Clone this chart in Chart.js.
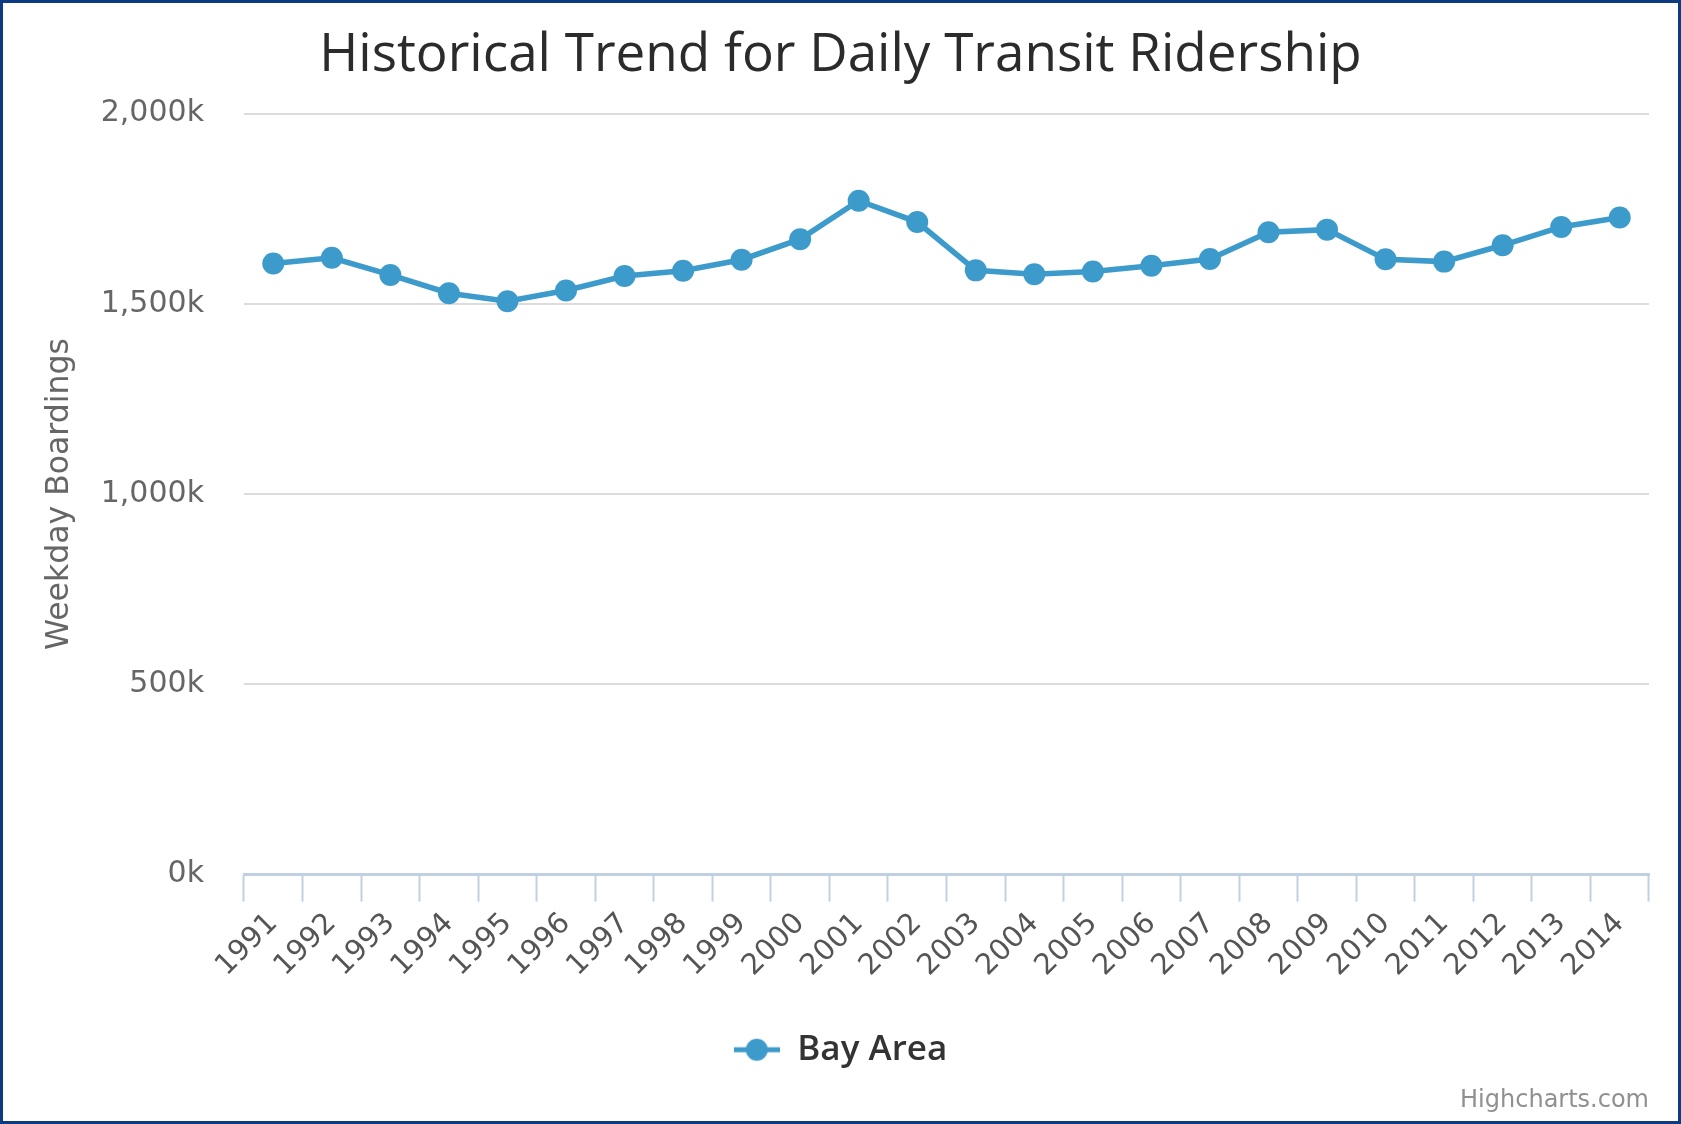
<!DOCTYPE html>
<html lang="en">
<head>
    <meta charset="UTF-8">
    <title>Historical Trend for Daily Transit Ridership</title>
    <script src="https://cdn.jsdelivr.net/npm/chart.js"></script>
    <style>
        html, body { margin: 0; padding: 0; background: #fff; }
        #wrap {
            width: 1681px; height: 1124px; box-sizing: border-box;
            border: 3px solid #0d3b82; background: #fff;
        }
        canvas { display: block; }
    </style>
</head>
<body>
    <div id="wrap"><canvas id="ridershipChart" width="1675" height="1118"></canvas></div>
    <script>
        // years on the x axis
        const years = ['1991', '1992', '1993', '1994', '1995', '1996', '1997', '1998',
            '1999', '2000', '2001', '2002', '2003', '2004', '2005', '2006',
            '2007', '2008', '2009', '2010', '2011', '2012', '2013', '2014'];

        // weekday boardings, Bay Area
        const bayArea = [1606000, 1621000, 1576000, 1528000, 1507000, 1535000, 1573000, 1587000,
            1616000, 1670000, 1771000, 1715000, 1588000, 1578000, 1585000, 1600000,
            1618000, 1688000, 1695000, 1617000, 1611000, 1654000, 1702000, 1727000];

        const yTicks = [0, 500000, 1000000, 1500000, 2000000];

        const lineColor = '#3d9bcc';

        // legend symbol: short line with a dot
        const sym = document.createElement('canvas');
        sym.width = 46; sym.height = 24;
        const sc = sym.getContext('2d');
        sc.strokeStyle = lineColor; sc.lineWidth = 5;
        sc.beginPath(); sc.moveTo(0, 12); sc.lineTo(46, 12); sc.stroke();
        sc.fillStyle = lineColor;
        sc.beginPath(); sc.arc(23, 12, 11, 0, Math.PI * 2); sc.fill();

        const ctx = document.getElementById('ridershipChart').getContext('2d');
        new Chart(ctx, {
            type: 'line',
            data: {
                labels: years,
                datasets: [{
                    label: 'Bay Area',
                    data: bayArea,
                    borderColor: lineColor,
                    backgroundColor: lineColor,
                    borderWidth: 5.5,
                    pointStyle: 'circle',
                    pointRadius: 11,
                    pointBorderWidth: 0,
                    pointBackgroundColor: lineColor,
                    tension: 0
                }]
            },
            options: {
                responsive: false,
                animation: false,
                layout: { padding: { left: 29, right: 29, top: 0, bottom: 0 } },
                plugins: {
                    title: {
                        display: true,
                        text: 'Historical Trend for Daily Transit Ridership',
                        color: '#2b2b2b',
                        font: { family: 'Open Sans', size: 53, weight: 'normal' },
                        padding: { top: 21, bottom: 26 }
                    },
                    subtitle: {
                        display: true,
                        position: 'bottom',
                        align: 'end',
                        text: 'Highcharts.com',
                        color: '#909090',
                        font: { family: 'DejaVu Sans', size: 24, weight: 'normal' },
                        padding: { top: 9, bottom: 6 }
                    },
                    legend: {
                        position: 'bottom',
                        labels: {
                            usePointStyle: true,
                            pointStyleWidth: 46,
                            boxHeight: 24,
                            padding: 10,
                            color: '#333333',
                            font: { family: 'Open Sans', size: 35, weight: '600' },
                            generateLabels: function(chart) {
                                return [{
                                    text: 'Bay Area',
                                    pointStyle: sym,
                                    fillStyle: lineColor,
                                    strokeStyle: lineColor,
                                    lineWidth: 0,
                                    datasetIndex: 0,
                                    fontColor: '#333333'
                                }];
                            }
                        }
                    },
                    tooltip: { enabled: false }
                },
                scales: {
                    x: {
                        offset: true,
                        grid: {
                            offset: true,
                            drawOnChartArea: false,
                            drawTicks: true,
                            tickLength: 27,
                            tickWidth: 2,
                            color: '#c0d0e0'
                        },
                        border: { display: true, color: '#c0d0e0', width: 3 },
                        ticks: {
                            minRotation: 45,
                            maxRotation: 45,
                            autoSkip: false,
                            padding: 5,
                            color: '#555555',
                            font: { family: 'DejaVu Sans', size: 29 }
                        },
                        afterFit: function(scale) { scale.height = 147.6; }
                    },
                    y: {
                        min: 0,
                        max: 2000000,
                        afterBuildTicks: function(scale) {
                            scale.ticks = yTicks.map(v => ({ value: v }));
                        },
                        grid: { color: '#dcdcdc', lineWidth: 2, drawTicks: false },
                        border: { display: false },
                        ticks: {
                            padding: 40,
                            color: '#666666',
                            font: { family: 'DejaVu Sans', size: 30 },
                            callback: function(v) {
                                return (v / 1000).toLocaleString('en-US') + 'k';
                            }
                        },
                        title: {
                            display: true,
                            text: 'Weekday Boardings',
                            color: '#666666',
                            font: { family: 'DejaVu Sans', size: 31.5 },
                            padding: { top: 9, bottom: 0 }
                        },
                        afterFit: function(scale) { scale.width = 212; }
                    }
                }
            }
        });
    </script>
</body>
</html>
